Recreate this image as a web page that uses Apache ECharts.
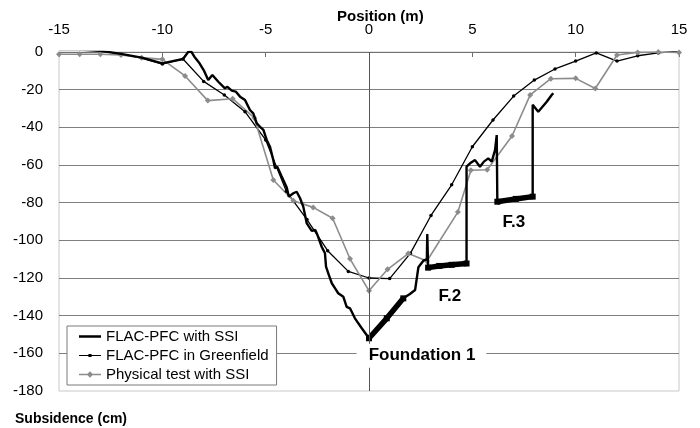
<!DOCTYPE html>
<html>
<head>
<meta charset="utf-8">
<script src="https://cdn.jsdelivr.net/npm/echarts@6/dist/echarts.min.js"></script>
<style>
  html, body { margin: 0; padding: 0; background: #fff; }
  #main { width: 700px; height: 428px; }
</style>
</head>
<body>
<div id="main"></div>
<script>
// FLAC-PFC with SSI (thin part of the curve)
var ssiX = [-15, -14, -13, -12, -11, -10, -9, -8.75, -8.6, -8.45, -8.2, -8.0, -7.78, -7.58, -7.29, -6.97, -6.85, -6.64, -6.45, -6.24, -6.0,
  -5.76, -5.6, -5.43, -5.27, -5.11, -4.95, -4.79, -4.63, -4.55, -4.44, -4.23, -3.98, -3.88, -3.66, -3.5, -3.34, -3.18, -3.01,
  -2.77, -2.6, -2.5, -2.29, -2.13, -2.08, -1.97, -1.8, -1.64, -1.49, -1.24, -1.08, -0.92, -0.68, -0.35, 0,
  0.86, 1.66, 1.98, 2.23, 2.39, 2.63, 2.8, 2.82, 2.86,
  3.4, 4.0, 4.72, 4.72, 4.89, 5.13, 5.37, 5.56, 5.77, 5.94, 6.1, 6.18, 6.21,
  7.1, 7.92, 7.92, 8.19, 8.6, 8.84, 8.92];
var ssiY = [1.3, 1.3, 0.6, -1, -3, -6, -3.7, 0, 0.2, -2.5, -6, -9.6, -14.9, -12.2, -15.8, -19.3, -18.5, -20.5, -21, -23.7, -25.5,
  -30.8, -32.6, -37.9, -39.7, -41.4, -46.7, -50.3, -57.4, -61.8, -60.9, -66, -72, -76.8, -75, -74.2, -77.5, -82.1, -91,
  -95, -94.5, -97, -103.4, -106.9, -114, -117.5, -122.8, -125.5, -128.1, -130, -135.3, -136.1, -141.4, -146.7, -152,
  -141.4, -130.8, -128.5, -126.4, -114.3, -110.8, -110, -96.7, -114.5,
  -113.6, -113, -112.3, -60.9, -59.1, -57.4, -60.9, -58.2, -56.5, -58.2, -52, -44.1, -79.5,
  -78, -76.8, -28, -31.7, -26.4, -22.8, -21.9];

// thick parts under the foundations
var f1X = [0, 0.86, 1.66];
var f1Y = [-152, -141.4, -130.8];
var f2X = [2.86, 3.4, 4.0, 4.72];
var f2Y = [-114.5, -113.6, -113, -112.3];
var f3X = [6.21, 7.1, 7.92];
var f3Y = [-79.5, -78, -76.8];

// FLAC-PFC in Greenfield
var greenX = [-15, -14, -13, -12, -11, -10, -9, -8, -7, -6, -5, -4, -3, -2, -1, 0, 1, 2, 3, 4, 5, 6, 7, 8, 9, 10, 11, 12, 13, 14, 15];
var greenY = [1.5, 1.3, 0.6, -1, -3.2, -6.4, -3.7, -15.6, -22.8, -31.7, -46.7, -74, -89, -105.5, -116.5, -120, -120.3, -106.9, -86.8,
  -70.5, -50.3, -36.1, -23.4, -14.9, -9, -4.8, -0.5, -4.8, -2, -0.5, 0.5];

// Physical test with SSI
var physX = [-15, -14, -13, -12, -11, -10, -8.9, -7.8, -6.6, -5.55, -4.63, -3.66, -2.7, -1.76, -0.92, 0, 0.9, 1.9, 2.8,
  4.3, 4.93, 5.72, 6.92, 7.8, 8.8, 10, 10.95, 12, 13, 14, 15];
var physY = [-1.2, -1.2, -1.2, -1.6, -3, -3.9, -12.7, -25.8, -24.8, -35, -68, -79, -82.5, -88.3, -109.8, -126.8, -115.4, -107, -111,
  -85, -62.8, -62.5, -44.6, -22.8, -14.2, -14, -19.4, -1.6, -0.2, 0, -0.3];

function pairs(xs, ys) {
    var out = []
    for (var i = 0; i < xs.length; i++) {
        out.push([xs[i], ys[i]])
    }
    return out
}

// legend icons: a line with (or without) the marker, corners keep the box size
var box = 'M0,0h0.01v0.01h-0.01z M21.99,14.99h0.01v0.01h-0.01z '
var iconSSI = 'path://' + box + 'M0,6.3h22v2.4h-22z'
var iconGreen = 'path://' + box + 'M0,6.9h22v1.2h-22z M9.4,5.9h3.2v3.2h-3.2z'
var iconPhys = 'path://' + box + 'M0,6.7h22v1.6h-22z M11,4.3 L14.2,7.5 L11,10.7 L7.8,7.5z'

var font = 'Liberation Sans, Arial, sans-serif'
var myChart = echarts.init(document.getElementById('main'), null, {renderer: 'canvas'});

var thick = {
    type: 'line',
    symbol: 'rect',
    symbolSize: 6,
    showSymbol: true,
    itemStyle: { color: '#000' },
    lineStyle: { color: '#000', width: 5.5 },
    z: 4,
    silent: true
}

var option = {
    backgroundColor: '#fff',
    animation: false,
    textStyle: { fontFamily: font },
    title: [{
        text: 'Position (m)',
        left: 332, top: 4,
        textStyle: { fontSize: 15, fontWeight: 'bold', color: '#000', fontFamily: font }
    }, {
        text: 'Subsidence (cm)',
        left: 10, top: 407,
        textStyle: { fontSize: 14, fontWeight: 'bold', color: '#000', fontFamily: font }
    }],
    grid: {
        left: 59, right: 21, top: 52, bottom: 37,
        show: true,
        borderColor: '#c8c8c8',
        borderWidth: 1
    },
    legend: {
        data: [
            { name: 'FLAC-PFC with SSI', icon: iconSSI },
            { name: 'FLAC-PFC in Greenfield', icon: iconGreen },
            { name: 'Physical test with SSI', icon: iconPhys }
        ],
        orient: 'vertical',
        left: 67, top: 326,
        padding: [3, 8, 3, 12],
        itemGap: 4,
        itemWidth: 22,
        itemHeight: 15,
        backgroundColor: '#fff',
        borderColor: '#7a7a7a',
        borderWidth: 1,
        borderRadius: 0,
        textStyle: { fontSize: 15, color: '#000', fontFamily: font }
    },
    xAxis: {
        type: 'value',
        position: 'top',
        min: -15, max: 15, interval: 5,
        axisLine: { show: true, onZero: false, lineStyle: { color: '#707070', width: 1 } },
        axisTick: { show: true, inside: true, length: 5, lineStyle: { color: '#707070' } },
        axisLabel: { fontSize: 15, color: '#000', margin: 15, fontFamily: font },
        splitLine: { show: false }
    },
    yAxis: {
        type: 'value',
        min: -180, max: 0, interval: 20,
        axisLine: { show: false },
        axisTick: { show: false },
        axisLabel: { fontSize: 15, color: '#000', margin: 16, fontFamily: font },
        splitLine: { show: true, showMinLine: false, lineStyle: { color: '#7f7f7f', width: 1 } }
    },
    series: [{
        name: 'FLAC-PFC with SSI',
        type: 'line',
        data: pairs(ssiX, ssiY),
        symbol: 'none',
        itemStyle: { color: '#000' },
        lineStyle: { color: '#000', width: 2.4 },
        z: 3
    }, {
        name: 'FLAC-PFC in Greenfield',
        type: 'line',
        data: pairs(greenX, greenY),
        symbol: 'circle',
        symbolSize: 3.5,
        itemStyle: { color: '#000' },
        lineStyle: { color: '#000', width: 1.3 },
        z: 2,
        markLine: {
            silent: true,
            symbol: ['none', 'none'],
            label: { show: false },
            lineStyle: { color: '#555', width: 1, type: 'solid' },
            data: [{ xAxis: 0 }]
        }
    }, {
        name: 'Physical test with SSI',
        type: 'line',
        data: pairs(physX, physY),
        symbol: 'diamond',
        symbolSize: 6,
        itemStyle: { color: '#8c8c8c' },
        lineStyle: { color: '#8c8c8c', width: 1.6 },
        z: 2
    }, Object.assign({}, thick, {
        name: 'f1',
        data: pairs(f1X, f1Y),
        markPoint: {
            symbol: 'rect',
            symbolSize: 0,
            silent: true,
            z: 10,
            label: {
                show: true,
                position: 'inside',
                color: '#000',
                fontSize: 17,
                fontWeight: 'bold',
                fontFamily: font
            },
            data: [{
                coord: [2.54, -161.3],
                value: 'Foundation 1',
                label: { backgroundColor: '#fff', padding: [4, 11, 3, 12] }
            }, {
                coord: [3.91, -129.8],
                value: 'F.2'
            }, {
                coord: [7.01, -90.5],
                value: 'F.3'
            }]
        }
    }), Object.assign({}, thick, {
        name: 'f2',
        data: pairs(f2X, f2Y)
    }), Object.assign({}, thick, {
        name: 'f3',
        data: pairs(f3X, f3Y)
    })]
};
myChart.setOption(option);
</script>
</body>
</html>
